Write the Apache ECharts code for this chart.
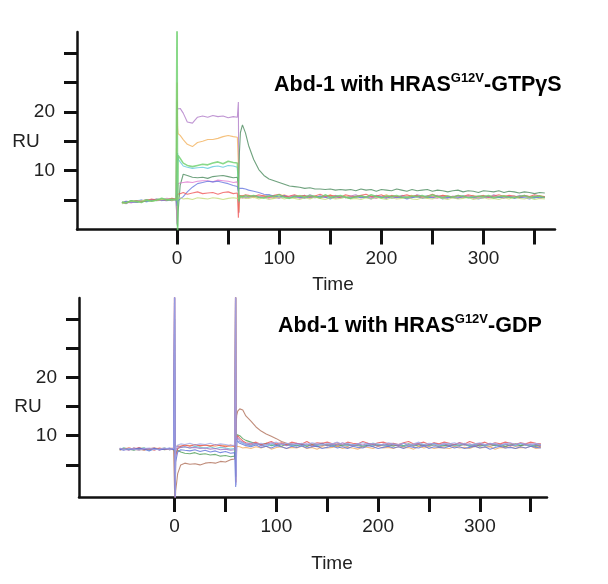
<!DOCTYPE html>
<html>
<head>
<meta charset="utf-8">
<script src="https://cdn.jsdelivr.net/npm/echarts@6/dist/echarts.min.js"></script>
<style>html,body{margin:0;padding:0;background:#fff}#c{width:608px;height:584px}</style>
</head>
<body>
<div id="c"></div>
<script>
// shared time grid (s)
const times = [
  -54,-50,-45,-40,-35,-30,-25,-20,-15,-10,-5,-1,
  0,0.5,1,3,6,10,15,20,25,30,35,40,45,50,55,59,
  60,60.5,61,62,64,67,
  70,75,80,85,90,95,100,105,110,115,
  120,125,130,135,140,145,150,155,160,165,
  170,175,180,185,190,195,200,205,210,215,
  220,225,230,235,240,245,250,255,260,265,
  270,275,280,285,290,295,300,305,310,315,
  320,325,330,335,340,345,350,355,360
];

const xTicks = [0,50,100,150,200,250,300,350];
const xLabels = [0,100,200,300];
const yTicks = [5,10,15,20,25,30];
const yLabels = [10,20];

// ---- Top panel: HRAS G12V-GTPγS ----
const topPurple = [
  4.6,4.4,4.8,4.7,5.0,4.8,5.1,4.9,5.0,5.2,5.0,5.3,
  22.0,20.5,20.8,20.6,19.8,18.3,18.1,19.1,19.3,19.1,19.4,19.2,19.3,19.0,19.2,19.1,
  21.7,2.8,5.5,5.8,5.6,5.4,
  5.5,5.8,5.4,5.6,5.9,5.5,5.3,5.7,5.6,5.8,
  5.4,5.5,5.9,5.6,5.3,5.7,5.5,5.8,5.6,5.4,
  5.7,5.9,5.5,5.6,5.3,5.8,5.6,5.5,5.7,5.4,
  5.8,5.6,5.5,5.9,5.7,5.4,5.6,5.8,5.5,5.3,
  5.6,5.7,5.5,5.8,5.4,5.6,5.7,5.5,5.9,5.6,
  5.4,5.7,5.5,5.8,5.6,5.4,5.7,5.5,5.6
];
const topOrange = [
  4.5,4.8,4.6,4.9,4.7,5.0,4.9,5.2,5.0,5.1,5.3,5.1,
  25.0,17.5,16.3,16.0,15.3,14.5,14.1,14.8,15.0,15.3,15.3,15.5,15.8,16.0,15.8,15.7,
  11.0,3.0,5.0,5.6,5.8,5.5,
  5.7,5.4,5.6,5.8,5.5,5.3,5.6,5.9,5.5,5.4,
  5.8,5.6,5.3,5.7,5.5,5.6,5.9,5.4,5.5,5.7,
  5.6,5.4,5.8,5.5,5.7,5.3,5.6,5.9,5.5,5.6,
  5.4,5.7,5.8,5.5,5.6,5.3,5.7,5.5,5.8,5.6,
  5.5,5.3,5.7,5.6,5.8,5.5,5.4,5.7,5.6,5.5,
  5.8,5.5,5.6,5.4,5.7,5.6,5.5,5.8,5.5
];
const topCyan = [
  4.4,4.7,4.6,4.9,5.0,4.7,5.0,5.1,4.9,5.2,5.1,5.2,
  8.0,13.0,12.0,11.5,10.8,10.6,10.4,10.5,10.6,10.4,10.7,10.8,10.6,10.9,10.8,10.6,
  7.0,4.5,5.4,5.5,5.7,5.4,
  5.5,5.7,5.6,5.3,5.6,5.8,5.5,5.6,5.4,5.7,
  5.6,5.8,5.4,5.5,5.7,5.5,5.3,5.6,5.7,5.4,
  5.6,5.5,5.8,5.4,5.6,5.7,5.5,5.6,5.3,5.5,
  5.7,5.5,5.4,5.6,5.5,5.8,5.4,5.6,5.7,5.5,
  5.6,5.4,5.8,5.5,5.7,5.3,5.6,5.5,5.7,5.4,
  5.6,5.5,5.7,5.4,5.6,5.5,5.3,5.6,5.5
];
const topDarkGreen = [
  4.5,4.6,4.9,4.6,4.8,5.1,4.9,5.0,5.2,5.1,4.9,5.2,
  1.0,0.5,3.0,7.5,9.4,9.2,8.9,8.8,8.9,8.7,9.0,9.1,9.2,9.0,8.8,8.9,
  7.0,9.0,13.0,16.5,17.8,16.4,
  14.3,11.9,10.2,9.2,8.6,8.3,8.0,7.7,7.4,7.3,
  7.2,7.0,7.1,6.9,6.9,6.8,6.9,6.7,6.8,6.7,
  6.8,6.6,6.9,6.7,6.8,6.5,6.8,6.7,6.6,6.9,
  6.7,6.5,6.8,6.6,6.7,6.8,6.5,6.7,6.6,6.4,
  6.6,6.7,6.4,6.6,6.5,6.3,6.6,6.5,6.4,6.6,
  6.3,6.5,6.4,6.2,6.4,6.3,6.1,6.3,6.2
];
const topPink = [
  4.6,4.7,4.5,4.8,4.9,5.0,4.8,5.1,5.0,5.3,5.1,5.0,
  1.0,7.0,7.8,7.9,8.0,8.1,8.0,8.2,8.3,8.3,8.1,8.4,8.3,8.2,8.0,8.1,
  6.0,5.0,5.6,5.5,5.3,5.6,
  5.4,5.6,5.7,5.5,5.3,5.6,5.4,5.8,5.5,5.6,
  5.3,5.5,5.7,5.4,5.6,5.5,5.7,5.3,5.6,5.4,
  5.5,5.7,5.4,5.6,5.5,5.3,5.6,5.7,5.4,5.5,
  5.6,5.3,5.5,5.7,5.4,5.6,5.5,5.3,5.6,5.4,
  5.7,5.5,5.4,5.6,5.3,5.5,5.6,5.4,5.7,5.5,
  5.3,5.6,5.4,5.5,5.7,5.4,5.6,5.3,5.5
];
const topBlue = [
  4.5,4.8,4.7,4.6,4.9,4.8,5.0,5.2,5.0,4.9,5.2,5.1,
  4.0,4.8,5.0,5.2,5.6,6.4,7.2,7.8,8.0,8.2,8.1,8.2,8.0,7.8,7.5,7.3,
  6.5,7.0,7.2,7.1,7.0,6.9,
  6.7,6.5,6.3,6.0,5.9,5.7,5.5,5.8,5.4,5.6,
  5.5,5.3,5.6,5.4,5.7,5.5,5.2,5.6,5.4,5.5,
  5.3,5.6,5.4,5.5,5.2,5.6,5.5,5.3,5.6,5.4,
  5.5,5.2,5.4,5.6,5.3,5.5,5.4,5.6,5.2,5.5,
  5.4,5.3,5.6,5.4,5.5,5.2,5.4,5.6,5.3,5.5,
  5.4,5.6,5.3,5.5,5.4,5.2,5.5,5.4,5.5
];
const topRed = [
  4.6,4.5,4.8,4.9,4.7,4.9,5.2,5.0,5.1,5.0,5.3,5.1,
  5.0,6.0,6.2,6.1,6.3,6.0,6.2,6.4,6.1,6.2,6.3,6.0,6.3,6.4,6.1,6.2,
  2.0,4.0,5.8,6.0,5.7,5.9,
  5.8,5.6,5.9,5.7,5.5,5.8,6.0,5.6,5.7,5.9,
  5.6,5.8,5.5,5.7,6.0,5.6,5.8,5.7,5.5,5.9,
  5.7,5.6,5.8,6.0,5.6,5.7,5.9,5.5,5.8,5.6,
  5.7,5.9,5.6,5.8,5.5,5.7,6.0,5.6,5.8,5.7,
  5.5,5.8,5.6,5.9,5.7,5.6,5.8,5.5,5.7,5.9,
  5.6,5.8,5.7,5.5,5.8,5.6,5.9,5.7,5.6
];
const topYellowGreen = [
  4.4,4.6,4.8,4.7,4.9,5.0,4.8,5.0,5.1,5.2,5.0,5.2,
  5.5,5.3,5.3,5.4,5.2,5.3,5.1,5.4,5.3,5.2,5.4,5.3,5.1,5.3,5.4,5.3,
  5.0,5.3,5.4,5.2,5.4,5.3,
  5.3,5.5,5.2,5.4,5.1,5.3,5.5,5.2,5.4,5.3,
  5.1,5.4,5.2,5.5,5.3,5.1,5.4,5.2,5.3,5.5,
  5.2,5.3,5.1,5.4,5.2,5.5,5.3,5.1,5.4,5.2,
  5.3,5.5,5.2,5.1,5.4,5.3,5.2,5.5,5.3,5.1,
  5.4,5.2,5.3,5.5,5.1,5.3,5.4,5.2,5.3,5.1,
  5.4,5.2,5.5,5.3,5.2,5.4,5.1,5.3,5.2
];
const topMint = [
  4.7,4.5,4.9,4.8,4.6,5.0,4.8,5.0,5.3,5.0,5.2,5.0,
  40,-3,12.6,12.1,11.3,10.9,10.7,10.9,11.1,11.0,11.3,11.5,11.2,11.6,11.4,11.3,
  8.0,4.8,5.3,5.7,5.5,5.8,
  5.6,5.8,5.5,5.4,5.7,5.6,5.9,5.5,5.3,5.6,
  5.7,5.5,5.8,5.6,5.4,5.9,5.5,5.6,5.8,5.5,
  5.3,5.6,5.7,5.5,5.9,5.6,5.4,5.7,5.6,5.8,
  5.5,5.4,5.7,5.6,5.8,5.5,5.9,5.6,5.4,5.7,
  5.5,5.8,5.6,5.4,5.5,5.7,5.6,5.8,5.4,5.6,
  5.7,5.5,5.4,5.6,5.8,5.5,5.6,5.7,5.4
];

// ---- Bottom panel: HRAS G12V-GDP ----
const botBrown = [
  7.5,7.8,7.6,7.9,7.7,7.5,7.8,7.9,7.6,7.8,7.7,7.6,
  0.0,-2.0,0.5,3.5,5.0,5.3,5.1,5.2,5.0,5.3,5.4,5.3,5.6,5.5,5.9,6.0,
  10.0,12.0,13.5,14.2,14.6,14.4,
  13.4,12.5,11.5,10.8,10.3,9.9,9.5,9.0,8.7,8.6,
  8.3,8.5,8.2,8.4,8.1,8.3,8.5,8.2,8.4,8.3,
  8.2,8.5,8.3,8.1,8.4,8.2,8.5,8.3,8.2,8.4,
  8.3,8.1,8.4,8.2,8.5,8.3,8.2,8.4,8.1,8.3,
  8.4,8.2,8.3,8.5,8.2,8.1,8.4,8.3,8.2,8.4,
  8.3,8.1,8.4,8.2,8.3,8.5,8.2,8.3,8.1
];
const botRed = [
  7.8,7.6,7.9,7.7,8.0,7.6,7.8,7.5,7.9,7.7,7.8,7.9,
  40,-3,6.5,7.8,8.2,8.4,8.2,8.5,8.3,8.4,8.2,8.5,8.3,8.1,8.4,8.2,
  40,2.0,9.5,10.0,9.6,9.1,
  8.8,8.6,8.9,8.5,8.7,9.0,8.6,8.8,8.5,8.9,
  8.7,8.6,9.0,8.5,8.8,8.7,8.9,8.6,8.8,8.5,
  8.9,8.7,8.6,9.0,8.7,8.5,8.8,8.9,8.6,8.7,
  8.5,8.8,9.0,8.6,8.7,8.9,8.5,8.8,8.6,8.9,
  8.7,8.5,8.8,8.6,9.0,8.7,8.6,8.9,8.5,8.8,
  8.6,8.9,8.7,8.5,8.8,8.6,8.9,8.7,8.6
];
const botGreen = [
  7.6,7.9,7.7,7.5,7.8,7.9,7.6,7.8,7.7,7.9,7.6,7.8,
  8.0,7.0,7.3,7.5,7.2,7.0,6.9,7.1,6.8,6.9,6.7,6.8,6.5,6.6,6.4,6.5,
  38,3.0,10.2,10.5,10.0,9.5,
  9.2,8.9,8.6,8.4,8.7,8.3,8.5,8.2,8.6,8.4,
  8.3,8.6,8.2,8.5,8.4,8.7,8.3,8.5,8.1,8.4,
  8.6,8.3,8.5,8.2,8.4,8.7,8.3,8.5,8.4,8.2,
  8.5,8.3,8.6,8.4,8.2,8.5,8.3,8.7,8.4,8.3,
  8.2,8.5,8.4,8.6,8.3,8.5,8.2,8.4,8.6,8.3,
  8.5,8.2,8.4,8.6,8.3,8.5,8.4,8.2,8.5
];
const botBlue = [
  7.7,7.5,7.8,7.6,7.9,7.7,7.4,7.8,7.6,7.7,7.9,7.6,
  40,-3,5.5,7.2,7.6,7.5,7.4,7.6,7.3,7.5,7.2,7.4,7.1,7.3,7.0,7.1,
  1.2,9.0,9.4,9.0,8.7,8.5,
  8.3,8.1,8.4,8.0,8.2,7.9,8.3,8.1,7.8,8.2,
  8.0,8.3,7.9,8.1,8.2,7.8,8.0,8.3,7.9,8.1,
  7.8,8.2,8.0,7.9,8.3,8.1,7.8,8.0,8.2,7.9,
  8.1,7.8,8.2,8.0,7.9,8.3,7.8,8.1,8.0,7.9,
  8.2,7.9,8.1,7.8,8.0,8.2,7.9,8.1,7.7,8.0,
  8.2,7.9,8.0,7.8,8.1,7.9,8.2,8.0,7.9
];
const botPurple = [
  7.8,7.7,7.5,7.9,7.6,7.8,7.7,7.9,7.5,7.8,7.6,7.7,
  36,1.0,7.5,8.2,8.0,8.1,7.9,8.0,7.8,7.9,7.7,7.8,7.6,7.7,7.5,7.6,
  40,3.0,9.8,9.6,9.2,8.9,
  8.6,8.4,8.7,8.3,8.5,8.8,8.4,8.6,8.3,8.5,
  8.7,8.4,8.6,8.2,8.5,8.7,8.3,8.6,8.4,8.8,
  8.5,8.3,8.6,8.4,8.7,8.5,8.2,8.6,8.4,8.5,
  8.3,8.7,8.5,8.4,8.6,8.2,8.5,8.7,8.4,8.6,
  8.3,8.5,8.8,8.4,8.6,8.3,8.5,8.4,8.7,8.5,
  8.4,8.6,8.3,8.5,8.7,8.4,8.6,8.5,8.3
];
const botOrange = [
  7.6,7.8,7.9,7.7,7.5,7.8,7.6,7.9,7.8,7.6,7.7,7.8,
  7.6,7.9,8.1,8.3,8.2,8.4,8.3,8.5,8.2,8.4,8.3,8.2,8.4,8.3,8.1,8.2,
  8.0,7.5,8.2,8.0,8.1,7.9,
  8.0,7.8,8.1,7.9,8.2,7.7,8.0,8.1,7.8,8.0,
  7.9,8.2,7.8,8.0,7.7,8.1,7.9,8.0,8.2,7.8,
  8.0,7.9,7.7,8.1,8.0,7.8,8.2,7.9,8.0,7.8,
  8.1,7.9,8.0,7.7,8.2,7.9,8.1,7.8,8.0,7.9,
  7.8,8.1,7.9,8.0,7.8,8.2,7.9,8.0,8.1,7.7,
  8.0,7.9,8.1,7.8,8.0,7.9,8.2,7.8,8.0
];
const botCyan = [
  7.7,7.9,7.6,7.8,7.7,7.9,7.5,7.7,7.8,7.6,7.8,7.7,
  30,0.0,7.0,7.8,8.0,8.1,7.9,8.2,8.0,7.9,8.1,7.8,8.0,7.9,7.7,7.8,
  7.5,6.0,9.0,9.3,9.0,8.7,
  8.5,8.3,8.6,8.4,8.2,8.5,8.3,8.6,8.4,8.3,
  8.5,8.2,8.4,8.6,8.3,8.5,8.4,8.2,8.6,8.4,
  8.3,8.5,8.4,8.2,8.6,8.3,8.5,8.4,8.3,8.6,
  8.4,8.2,8.5,8.3,8.6,8.4,8.3,8.5,8.2,8.4,
  8.6,8.3,8.4,8.5,8.2,8.4,8.6,8.3,8.5,8.4,
  8.2,8.5,8.4,8.3,8.6,8.4,8.2,8.5,8.4
];
const botLavender = [
  7.9,7.6,7.8,7.7,7.5,7.8,7.9,7.6,7.7,7.9,7.7,7.8,
  34,-3,8.0,8.4,8.6,8.5,8.7,8.4,8.6,8.5,8.7,8.4,8.6,8.5,8.3,8.4,
  39,1.5,9.2,9.4,9.0,8.8,
  8.6,8.8,8.5,8.7,8.4,8.6,8.9,8.5,8.7,8.6,
  8.4,8.7,8.5,8.8,8.6,8.4,8.7,8.6,8.9,8.5,
  8.7,8.4,8.6,8.8,8.5,8.7,8.6,8.4,8.8,8.6,
  8.5,8.7,8.4,8.6,8.9,8.5,8.7,8.6,8.4,8.7,
  8.6,8.8,8.5,8.7,8.4,8.6,8.8,8.5,8.6,8.7,
  8.4,8.6,8.8,8.5,8.7,8.6,8.4,8.7,8.5
];

const topTraces = [
  ['purple', topPurple, '#b07cc8'],
  ['orange', topOrange, '#f2b25c'],
  ['cyan', topCyan, '#62c8dc'],
  ['darkgreen', topDarkGreen, '#4b8b5e'],
  ['pink', topPink, '#e07ad0'],
  ['blue', topBlue, '#6678e0'],
  ['red', topRed, '#f05a5a'],
  ['yellowgreen', topYellowGreen, '#c6dc7a'],
  ['mint', topMint, '#6cd06c']
];
const botTraces = [
  ['brown', botBrown, '#b0705a'],
  ['green', botGreen, '#4f9e58'],
  ['orange', botOrange, '#f0a860'],
  ['cyan', botCyan, '#60c0d0'],
  ['red', botRed, '#e85050'],
  ['purple', botPurple, '#a070c0'],
  ['blue', botBlue, '#5c70d8'],
  ['lavender', botLavender, '#a0a8e8']
];

const FONT = 'Liberation Sans, Arial, sans-serif';
function makeSeries(list, idx) {
  return list.map(([name, vals, color]) => ({
    name: name, type: 'line', xAxisIndex: idx, yAxisIndex: idx,
    data: times.map((t, i) => [t, vals[i]]),
    symbol: 'none', clip: true, animation: false,
    lineStyle: { color: color, width: name === 'mint' ? 1.6 : 1.1, opacity: 0.8 }
  }));
}
function xAx(idx, min, max, gap, pad) {
  return {
    gridIndex: idx, type: 'value', min: min, max: max,
    axisLine: { show: true, onZero: false, lineStyle: { color: '#111', width: 2.5 } },
    axisTick: { show: true, length: 15, customValues: xTicks, lineStyle: { color: '#111', width: 3 } },
    axisLabel: { customValues: xLabels, margin: 20, fontSize: 19, color: '#222', fontFamily: FONT },
    splitLine: { show: false },
    name: 'Time', nameLocation: 'middle', nameGap: gap,
    nameTextStyle: { fontSize: 19, color: '#222', fontFamily: FONT, padding: [0, 0, 0, pad] }
  };
}
function yAx(idx, min, max) {
  return {
    gridIndex: idx, type: 'value', min: min, max: max,
    axisLine: { show: true, onZero: false, lineStyle: { color: '#111', width: 2.5 } },
    axisTick: { show: true, length: 13, customValues: yTicks, lineStyle: { color: '#111', width: 3 } },
    axisLabel: { customValues: yLabels, margin: 22, fontSize: 19, color: '#222', fontFamily: FONT },
    splitLine: { show: false }
  };
}
const titleRich = {
  a: { fontSize: 21.5, fontWeight: 'bold', color: '#000', fontFamily: FONT, lineHeight: 26 },
  s: { fontSize: 13, fontWeight: 'bold', color: '#000', fontFamily: FONT, verticalAlign: 'top', lineHeight: 14 }
};
const ruStyle = { text: 'RU', fontSize: 19, fill: '#222', fontFamily: FONT, align: 'center', verticalAlign: 'middle' };

const chart = echarts.init(document.getElementById('c'), null, { renderer: 'canvas' });
chart.setOption({
  backgroundColor: '#fff',
  animation: false,
  title: [
    { text: '{a|Abd-1 with HRAS}{s|G12V}{a|-GTPγS}', left: 274, top: 72, padding: 0, textStyle: { rich: titleRich } },
    { text: '{a|Abd-1 with HRAS}{s|G12V}{a|-GDP}', left: 278, top: 313, padding: 0, textStyle: { rich: titleRich } }
  ],
  graphic: [
    { type: 'text', x: 26, y: 142, style: ruStyle },
    { type: 'text', x: 28, y: 407, style: ruStyle }
  ],
  grid: [
    { left: 77, right: 53, top: 32, height: 197.5 },
    { left: 79, right: 61, top: 298, height: 199 }
  ],
  xAxis: [xAx(0, -98, 370, 46, 34), xAx(1, -94, 366, 57, 38)],
  yAxis: [yAx(0, 0, 33.6), yAx(1, -0.5, 33.6)],
  series: makeSeries(topTraces, 0).concat(makeSeries(botTraces, 1))
});
</script>
</body>
</html>
